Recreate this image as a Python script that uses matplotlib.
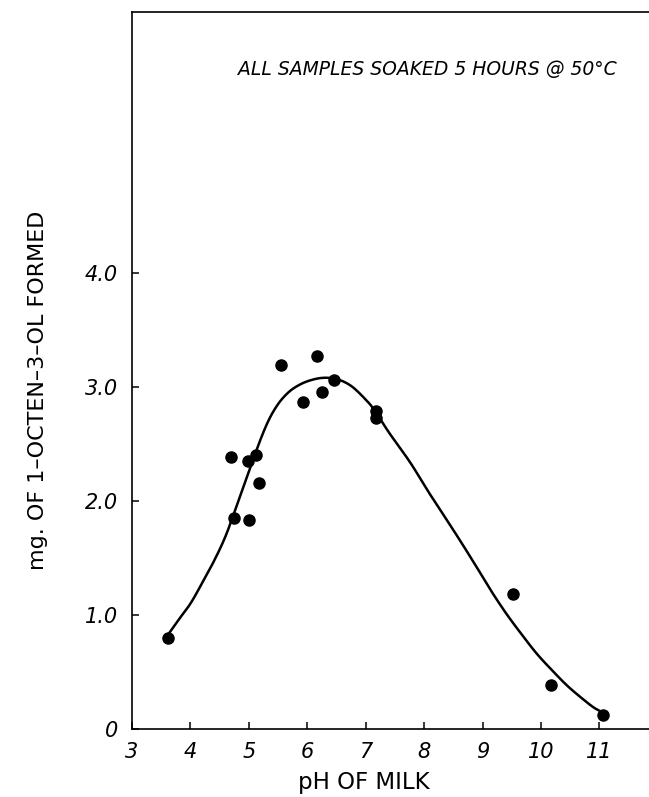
import numpy as np
import matplotlib
matplotlib.use('Agg')
import matplotlib.pyplot as plt

# measured samples (pH, mg formed)
ph_points = [3.62, 4.69, 4.74, 4.98, 5.00, 5.12, 5.18, 5.55, 5.93, 6.16, 6.26, 6.46, 7.17, 7.17, 9.53, 10.17, 11.06]
mg_points = [0.80, 2.39, 1.85, 2.35, 1.83, 2.40, 2.16, 3.19, 2.87, 3.27, 2.96, 3.06, 2.79, 2.73, 1.18, 0.39, 0.12]

# hand-drawn smooth curve
ph_curve = [3.62, 3.80, 4.00, 4.20, 4.40, 4.60, 4.80, 5.00, 5.20, 5.35, 5.50, 5.65, 5.80, 6.00, 6.25,
            6.50, 6.75, 7.00, 7.16, 7.40, 7.76, 8.05, 8.33, 8.62, 8.90, 9.15, 9.41, 9.67, 9.93, 10.20,
            10.45, 10.70, 10.90, 11.04]
mg_curve = [0.83, 0.96, 1.10, 1.28, 1.47, 1.69, 1.97, 2.26, 2.54, 2.72, 2.85, 2.94, 3.00, 3.05, 3.08,
            3.07, 3.01, 2.89, 2.79, 2.60, 2.34, 2.10, 1.88, 1.65, 1.42, 1.21, 1.01, 0.83, 0.66, 0.51,
            0.38, 0.27, 0.19, 0.15]

x_ticks = [3, 4, 5, 6, 7, 8, 9, 10, 11]
y_ticks = [0, 1, 2, 3, 4]
y_tick_labels = ['0', '1.0', '2.0', '3.0', '4.0']


def catmull_rom(xs, ys, n=12):
    # smooth pen stroke through the read points
    p = np.column_stack([xs, ys])
    p = np.vstack([p[0], p, p[-1]])
    out = []
    t = np.linspace(0, 1, n, endpoint=False)[:, None]
    for i in range(1, len(p) - 2):
        p0, p1, p2, p3 = p[i - 1], p[i], p[i + 1], p[i + 2]
        seg = 0.5 * ((2 * p1) + (-p0 + p2) * t + (2 * p0 - 5 * p1 + 4 * p2 - p3) * t ** 2
                     + (-p0 + 3 * p1 - 3 * p2 + p3) * t ** 3)
        out.append(seg)
    out.append(p[-2][None, :])
    out = np.vstack(out)
    return out[:, 0], out[:, 1]


W, H = 649, 797
fig = plt.figure(figsize=(W / 100, H / 100), dpi=100)
ax = fig.add_axes([132 / W, (H - 729) / H, (W - 132) / W, (729 - 12) / H])

cx, cy = catmull_rom(ph_curve, mg_curve)
ax.plot(cx, cy, color='black', lw=1.8, solid_capstyle='round')
ax.plot(ph_points, mg_points, 'o', color='black', markersize=8, zorder=3)

ax.set_xlim(3, 11.85)
ax.set_ylim(0, 6.29)
ax.set_xticks(x_ticks)
ax.set_xticklabels([str(t) for t in x_ticks], fontsize=15, style='italic')
ax.set_yticks(y_ticks)
ax.set_yticklabels(y_tick_labels, fontsize=15, style='italic')
ax.tick_params(direction='in', length=5, width=1.1)
ax.tick_params(axis='x', pad=9)
ax.tick_params(axis='y', pad=10)

ax.spines['right'].set_visible(False)
for s in ['left', 'bottom', 'top']:
    ax.spines[s].set_linewidth(1.2)

fig.text(427 / W, 1 - 70 / H, 'ALL SAMPLES SOAKED 5 HOURS @ 50\u00b0C', fontsize=13.5,
         style='italic', ha='center', va='center')
fig.text(364 / W, 1 - 783 / H, 'pH OF MILK', fontsize=16.5, ha='center', va='center')
fig.text(38 / W, 1 - 390 / H, 'mg. OF 1\u2013OCTEN\u20133\u2013OL FORMED', fontsize=16,
         rotation=90, ha='center', va='center')

fig.savefig('out.png', dpi=100)
